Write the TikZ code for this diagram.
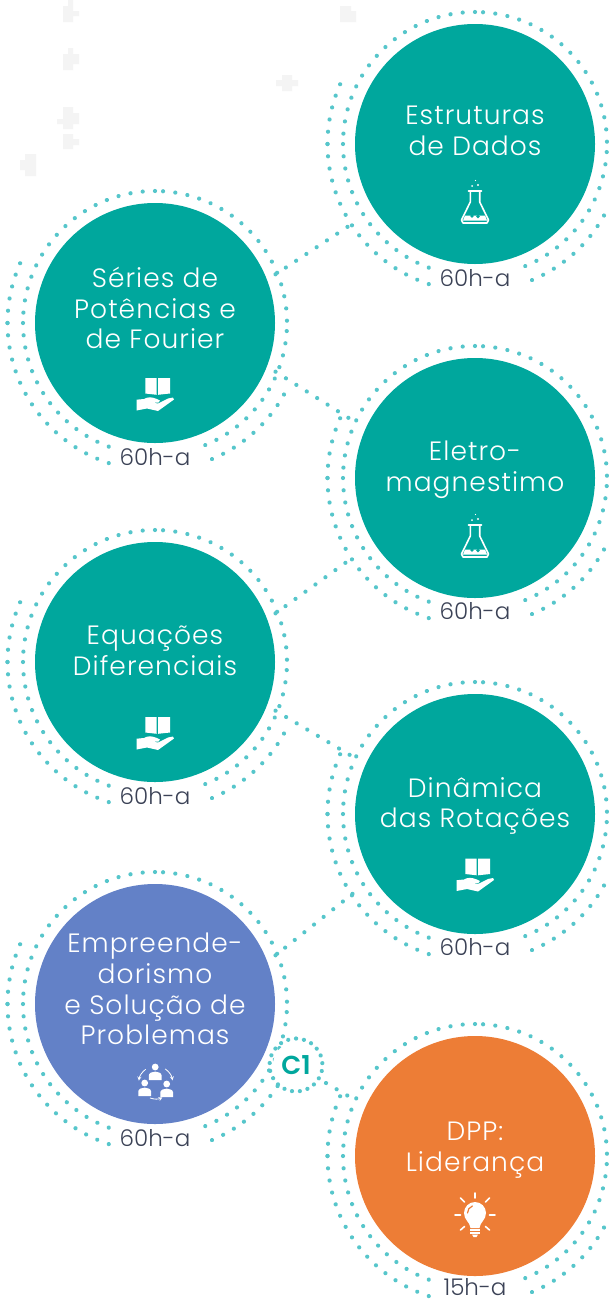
\documentclass[tikz,border=0pt]{standalone}
\usepackage{fontspec}
\setmainfont{Poppins}[UprightFont=* Light]
\usetikzlibrary{calc}
\definecolor{tealc}{HTML}{00A79D}
\definecolor{bluec}{HTML}{6381C7}
\definecolor{orangec}{HTML}{ED7D36}
\definecolor{dotc}{HTML}{56C6CB}
\definecolor{labc}{HTML}{3B4256}
\definecolor{faint}{HTML}{F4F4F4}
\tikzset{
  disc/.style={circle,minimum size=240pt,inner sep=0pt,outer sep=0pt},
  dotline/.style={draw=dotc,line width=4.2pt,line cap=round,dash pattern=on 0.01pt off 12.3pt},
  title/.style={text=white,align=center,font=\fontsize{26.5}{30.7}\selectfont\addfontfeatures{LetterSpace=4}},
  hours/.style={text=labc,font=\fontsize{23}{26}\selectfont,inner sep=0pt},
  flask/.pic={
    \draw[white,line width=1.6pt,line join=round,line cap=round] (-6.5,-14)--(6.5,-14) (-4.7,-14)--(-4.7,-3)--(-13.5,15)--(-12,18)--(12,18)--(13.5,15)--(4.7,-3)--(4.7,-14);
    \fill[white] (-10,10.5)--(10,10.5)--(12,15.5)--(-12,15.5)--cycle;
    \fill[tealc] (-3,11) circle (1.8) (3,11.5) circle (1.8) (0,8.8) circle (1.4);
    \fill[white] (-3,-19) circle (1) (3,-20) circle (1.1) (0.5,-24.5) circle (.6);
  },
  bookhand/.pic={
    \fill[white] (-9.7,-18.3)--(1.7,-18.3)--(1.7,-1.7)--(-9.7,-3)--cycle (3,-18.3)--(15,-18.3)--(15,-3)--(3,-1.7)--cycle;
    \fill[white] (-18.5,3.2)--(-11,2.5) .. controls (-7,0) and (-3,0.5) .. (2,2.5)--(5,4)--(3.5,6)--(-3,6)--(3,7)--(13,2)--(18,1)--(19,3)--(3,14.5)--(-8,12)--(-18.5,14)--cycle;
  },
  bulb/.pic={
    \fill[white] (-4.5,11) .. controls (-5,5) and (-11,3) .. (-11,-4) arc[start angle=180,end angle=360,radius=11] .. controls (11,3) and (5,5) .. (4.5,11)--cycle;
    \draw[orangec,line width=1.2pt,line cap=round] (-7.5,-4) arc[start angle=180,end angle=250,radius=7.5];
    \draw[white,line width=1.6pt] (-5,13)--(5,13) (-5,16)--(5,16);
    \fill[white] (-3,17.5)--(3,17.5)--(1.5,20)--(-1.5,20)--cycle;
    \draw[white,line width=1.6pt,line cap=round] (0,-24)--(0,-19) (-14.5,-19)--(-10.5,-15) (14.5,-19)--(10.5,-15) (-20,-2)--(-14.5,-2) (20,-2)--(14.5,-2) (-14.5,13)--(-10.5,9.5) (14.5,13)--(10.5,9.5);
  },
  people/.pic={
    \foreach \px/\py in {-.5/-9,-11/7,11/8}{
      \begin{scope}[shift={(\px,\py)}]
      \fill[white] (0,-7) circle (3.4);
      \fill[white] (-6.4,6)--(-6.4,1.5) .. controls (-6.4,-1) and (-3,-2.4) .. (0,-2.4) .. controls (3,-2.4) and (6.4,-1) .. (6.4,1.5) -- (6.4,6)--cycle;
      \end{scope}
    }
    \draw[white,line width=.8pt,-stealth] (-56:17) arc[start angle=-56,end angle=-9,radius=17];
    \draw[white,line width=.8pt,-stealth] (234:17) arc[start angle=234,end angle=188,radius=17];
    \draw[white,line width=.8pt,-stealth] (111:16) arc[start angle=111,end angle=65,radius=16];
  }
}
\newcommand{\RingAt}[2]{%
  \draw[dotline] ([shift={(90:132)}]#1,#2) arc[start angle=90,end angle=180,radius=132];
  \draw[dotline] ([shift={(180:132)}]#1,#2) arc[start angle=180,end angle=250,radius=132];
  \draw[dotline] ([shift={(86.5:132)}]#1,#2) arc[start angle=86.5,end angle=0,radius=132];
  \draw[dotline] ([shift={(-3.5:132)}]#1,#2) arc[start angle=-3.5,end angle=-69,radius=132];
  \draw[dotline] ([shift={(180:147.5)}]#1,#2) arc[start angle=180,end angle=155,radius=147.5];
  \draw[dotline] ([shift={(180:147.5)}]#1,#2) arc[start angle=180,end angle=252,radius=147.5];
  \draw[dotline] ([shift={(-29:147.5)}]#1,#2) arc[start angle=-29,end angle=-70,radius=147.5];
}
\begin{document}
\begin{tikzpicture}[x=1pt,y=1pt]
\useasboundingbox (0,0) rectangle (609,-1301);
\fill[white] (0,0) rectangle (609,-1301);
% faint background marks
\fill[faint] (63,-6) rectangle (73,-22) (73,-11) rectangle (79,-16) (68,0) rectangle (73,-6);
\fill[faint] (63,-54) rectangle (73,-70) (73,-54) rectangle (79,-64) (68,-48) rectangle (73,-54);
\fill[faint] (63,-107) rectangle (73,-129) (57,-119) rectangle (79,-124) (73,-113) rectangle (79,-123);
\fill[faint] (63,-134) rectangle (73,-149) (73,-139) rectangle (79,-145);
\fill[faint] (25,-154) rectangle (36,-176) (20,-160) rectangle (36,-170);
\fill[faint] (282,-75) rectangle (292,-91) (276,-80) rectangle (298,-86);
\fill[faint] (340,-6) rectangle (351,-22) (351,-11) rectangle (356,-22);
% rings
\RingAt{475}{-144}
\RingAt{155}{-323}
\RingAt{475}{-478}
\RingAt{155}{-662}
\RingAt{475}{-814}
\RingAt{155}{-1004}
\RingAt{475}{-1156}
% discs
\node[disc,fill=tealc] (estr) at (475,-144) {};
\node[disc,fill=tealc] (seri) at (155,-323) {};
\node[disc,fill=tealc] (elet) at (475,-478) {};
\node[disc,fill=tealc] (equa) at (155,-662) {};
\node[disc,fill=tealc] (dina) at (475,-814) {};
\node[disc,fill=bluec] (empr) at (155,-1004) {};
\node[disc,fill=orangec] (dpp) at (475,-1156) {};
% connector end points
\coordinate (a1) at ([shift={(22:130)}]seri.center);
\coordinate (b1) at ([shift={(213:144)}]estr.center);
\coordinate (a2) at ([shift={(-22:130)}]seri.center);
\coordinate (b2) at ([shift={(155:132)}]elet.center);
\coordinate (a3) at ([shift={(22:130)}]equa.center);
\coordinate (b3) at ([shift={(213:144)}]elet.center);
\coordinate (a4) at ([shift={(-22:130)}]equa.center);
\coordinate (b4) at ([shift={(155:132)}]dina.center);
\coordinate (a5) at ([shift={(22:130)}]empr.center);
\coordinate (b5) at ([shift={(213:144)}]dina.center);
\coordinate (b6) at ([shift={(155:132)}]dpp.center);
\draw[dotline] (a1)--(b1);
\draw[dotline] (a2)--(b2);
\draw[dotline] (a3)--(b3);
\draw[dotline] (a4)--(b4);
\draw[dotline] (a5)--(b5);
% C1
\node[text=tealc,fill=white,font=\fontsize{26}{28}\selectfont\bfseries,inner sep=0pt,circle,minimum size=46pt] (c1) at (296,-1065) {C1};
\draw[dotline,dash pattern=on 0.01pt off 7.9pt] ([shift={(90:26.5)}]c1.center) arc[start angle=90,end angle=450,radius=26.5];
\coordinate (a6) at ([shift={(-31:35)}]c1.center);
\draw[dotline] (a6)--(b6);
% titles
\node[title] (t1) at (475,-131) {Estruturas\\de Dados};
\node[title] (t2) at (155,-308) {Séries de\\Potências e\\de Fourier};
\node[title] (t3) at (475,-470) {Eletro-\\magnestimo};
\node[title] (t4) at (155,-650.5) {Equações\\Diferenciais};
\node[title] (t5) at (475,-806) {Dinâmica\\das Rotações};
\node[title] (t6) at (155,-989) {Empreende-\\dorismo\\e Solução de\\Problemas};
\node[title] (t7) at (475,-1150) {DPP:\\Liderança};
% icons
\pic[yscale=-1] at (475,-205) {flask};
\pic[yscale=-1] at (475,-539) {flask};
\pic[yscale=-1] at (155,-396.5) {bookhand};
\pic[yscale=-1] at (155,-735.5) {bookhand};
\pic[yscale=-1] at (475,-877) {bookhand};
\pic[yscale=-1] at (155.7,-1083) {people};
\pic[yscale=-1] at (475,-1217) {bulb};
% hours
\node[hours] (h1) at (475,-278) {60h-a};
\node[hours] (h2) at (155,-457) {60h-a};
\node[hours] (h3) at (475,-611) {60h-a};
\node[hours] (h4) at (155,-796) {60h-a};
\node[hours] (h5) at (475,-947) {60h-a};
\node[hours] (h6) at (155,-1138) {60h-a};
\node[hours] (h7) at (475,-1287) {15h-a};
\end{tikzpicture}
\end{document}
